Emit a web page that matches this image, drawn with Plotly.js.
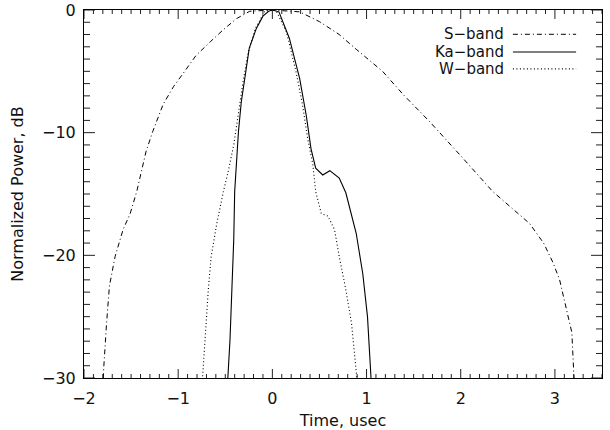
<!DOCTYPE html>
<html>
<head>
<meta charset="utf-8">
<script src="https://cdn.plot.ly/plotly-3.0.1.min.js"></script>
</head>
<body style="margin:0">
<div id="chart"></div>
<script>
// S-band
const sX = [-1.80, -1.79, -1.76, -1.73, -1.67, -1.585, -1.51, -1.44, -1.34, -1.27, -1.16, -1.05, -0.95, -0.81, -0.66, -0.52, -0.38, -0.24, 0, 0.15, 0.29, 0.5, 0.71, 0.89, 1.17, 1.39, 1.67, 1.99, 2.34, 2.52, 2.73, 2.88, 2.98, 3.05, 3.12, 3.18, 3.20, 3.21];
const sY = [-31, -29.1, -25.5, -22.5, -20.1, -17.9, -16.6, -14.8, -11.5, -9.9, -7.7, -6.25, -5.2, -3.7, -2.6, -1.6, -0.7, -0.1, 0, -0.05, -0.15, -0.95, -2.0, -3.2, -5.0, -6.9, -9.1, -11.8, -14.8, -16.0, -17.4, -19.0, -20.6, -22.0, -24.2, -26.3, -29.6, -31];
// Ka-band
const kaX = [-0.48, -0.47, -0.45, -0.43, -0.41, -0.40, -0.38, -0.36, -0.33, -0.29, -0.245, -0.17, -0.1, -0.04, 0, 0.07, 0.18, 0.29, 0.36, 0.41, 0.46, 0.535, 0.61, 0.71, 0.78, 0.89, 0.96, 1.01, 1.04, 1.055];
const kaY = [-31, -29.9, -26.9, -22.8, -18.7, -14.8, -12.5, -9.9, -7.5, -5.6, -3.1, -1.5, -0.5, -0.1, 0, -0.15, -2.3, -5.6, -8.6, -11.3, -12.9, -13.45, -13.1, -13.7, -14.9, -18.2, -21.5, -25.0, -28.8, -31];
// W-band
const wX = [-0.75, -0.74, -0.73, -0.705, -0.68, -0.65, -0.59, -0.52, -0.47, -0.41, -0.36, -0.31, -0.255, -0.18, -0.08, 0, 0.04, 0.15, 0.25, 0.32, 0.375, 0.43, 0.46, 0.52, 0.59, 0.66, 0.71, 0.78, 0.84, 0.87, 0.90, 0.91];
const wY = [-31, -29.7, -28.3, -25.5, -22.8, -20.1, -17.4, -14.8, -13.2, -11.0, -8.3, -5.8, -3.4, -1.5, -0.1, 0, -0.05, -1.8, -5.0, -7.7, -10.5, -12.6, -14.8, -16.6, -16.8, -17.9, -20.1, -22.8, -25.5, -27.7, -29.6, -31];

const seriesNames = ["S\u2212band", "Ka\u2212band", "W\u2212band"];
const seriesDash = ["5px,3px,1px,3px", "solid", "1px,2.5px"];
const seriesWidth = [1, 1.1, 1.1];
const xRange = [-2, 3.5];
const yRange = [-30, 0];
const xTicks = [-2, -1, 0, 1, 2, 3];
const yTicks = [-30, -20, -10, 0];

const M = {l: 84, r: 8, t: 10, b: 52};
const W = 610, H = 430;
const plotW = W - M.l - M.r, plotH = H - M.t - M.b;

const font = {family: "DejaVu Sans, sans-serif", size: 16, color: "#111"};
const legFont = {family: "DejaVu Sans, sans-serif", size: 15, color: "#111"};

const data = seriesNames.map((n, i) => ({
  x: [sX, kaX, wX][i], y: [sY, kaY, wY][i], mode: "lines",
  line: {color: "#000", width: seriesWidth[i], dash: seriesDash[i]}, name: n
}));

// inside tick marks on all four sides (major + minor), built from the axis ranges
const pxX = (xRange[1] - xRange[0]) / plotW;  // data units per pixel, x
const pxY = (yRange[1] - yRange[0]) / plotH;  // data units per pixel, y
const tx = [], ty = [];
for (let i = Math.round(xRange[0] * 10); i <= Math.round(xRange[1] * 10); i++) {
  const v = i / 10;
  const len = (i % 10 === 0 ? 9 : 4) * pxY;
  tx.push(v, v, null, v, v, null);
  ty.push(yRange[0], yRange[0] + len, null, yRange[1], yRange[1] - len, null);
}
for (let v = yRange[0]; v <= yRange[1]; v++) {
  const len = (v % 10 === 0 ? 11 : 6) * pxX;
  tx.push(xRange[0], xRange[0] + len, null, xRange[1], xRange[1] - len, null);
  ty.push(v, v, null, v, v, null);
}
data.push({x: tx, y: ty, mode: "lines", line: {color: "#222", width: 1}, hoverinfo: "skip", showlegend: false, connectgaps: false});

const legY = [0.934, 0.886, 0.840];
const annotations = seriesNames.map((n, i) => ({
  xref: "paper", yref: "paper", x: 0.812, y: legY[i], xanchor: "right", yanchor: "middle",
  text: n, showarrow: false, font: legFont, borderpad: 0
}));
const shapes = seriesNames.map((n, i) => ({
  type: "line", xref: "paper", yref: "paper", x0: 0.828, x1: 0.950, y0: legY[i], y1: legY[i],
  line: {color: "#000", width: seriesWidth[i], dash: seriesDash[i]}
}));

const layout = {
  width: W, height: H,
  margin: M,
  paper_bgcolor: "#fff", plot_bgcolor: "#fff",
  showlegend: false,
  font: font,
  xaxis: {
    range: xRange, tickvals: xTicks, ticks: "",
    showline: true, linecolor: "#000", linewidth: 1, mirror: true, showgrid: false, zeroline: false,
    ticklabelstandoff: 6, tickfont: font,
    title: {text: "Time, usec", font: font, standoff: 10}
  },
  yaxis: {
    range: yRange, tickvals: yTicks, ticks: "",
    showline: true, linecolor: "#000", linewidth: 1, mirror: true, showgrid: false, zeroline: false,
    ticklabelstandoff: 4, tickfont: font,
    title: {text: "Normalized Power, dB", font: font, standoff: 14}
  },
  annotations: annotations,
  shapes: shapes
};

Plotly.newPlot("chart", data, layout, {displayModeBar: false, staticPlot: true});
</script>
</body>
</html>
